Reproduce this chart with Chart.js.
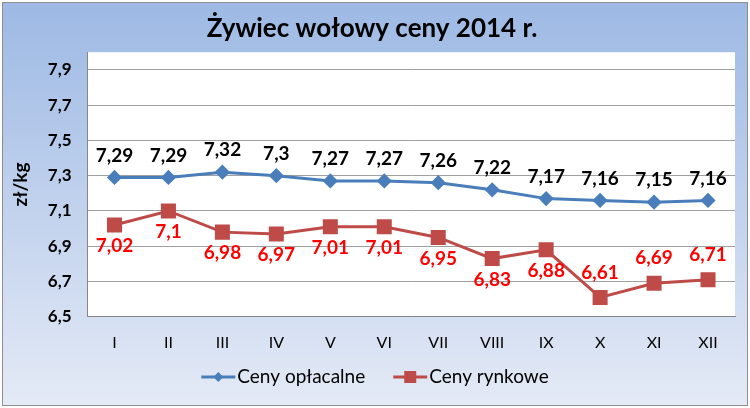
<!DOCTYPE html>
<html>
<head>
<meta charset="utf-8">
<script src="https://cdn.jsdelivr.net/npm/chart.js@4/dist/chart.umd.min.js"></script>
<style>
  html, body { margin: 0; padding: 0; background: #fff; }
  #frame {
    position: absolute; left: 2px; top: 2px; width: 744px; height: 402px;
    border: 1px solid #8e8e8e;
    background: linear-gradient(#9db9e4, #e4eaf6);
  }
  canvas { display: block; }
</style>
</head>
<body>
<div id="frame"><canvas id="chart" width="744" height="402"></canvas></div>
<script>
const months = ['I', 'II', 'III', 'IV', 'V', 'VI', 'VII', 'VIII', 'IX', 'X', 'XI', 'XII'];
const cenyOplacalne = [7.29, 7.29, 7.32, 7.3, 7.27, 7.27, 7.26, 7.22, 7.17, 7.16, 7.15, 7.16];
const cenyRynkowe = [7.02, 7.1, 6.98, 6.97, 7.01, 7.01, 6.95, 6.83, 6.88, 6.61, 6.69, 6.71];
const yTicks = [6.5, 6.7, 6.9, 7.1, 7.3, 7.5, 7.7, 7.9];

const FONT = 'Lato, "Open Sans", sans-serif';
const fmt = (v) => String(v).replace('.', ',');

const plotBackground = {
  id: 'plotBackground',
  beforeDraw(chart) {
    const { ctx, chartArea: a } = chart;
    ctx.save();
    ctx.fillStyle = '#ffffff';
    ctx.fillRect(a.left, a.top, a.right - a.left, a.bottom - a.top);
    ctx.restore();
  }
};

const valueLabels = {
  id: 'valueLabels',
  afterDatasetsDraw(chart) {
    const { ctx } = chart;
    ctx.save();
    ctx.font = 'bold 19px ' + FONT;
    ctx.textAlign = 'center';
    ctx.textBaseline = 'middle';
    chart.data.datasets.forEach((ds, di) => {
      const meta = chart.getDatasetMeta(di);
      meta.data.forEach((pt, i) => {
        let dy;
        if (di === 0) dy = -22;
        else dy = i >= 9 ? -25 : 21;
        ctx.fillStyle = di === 0 ? '#000000' : '#ff0000';
        ctx.fillText(fmt(ds.data[i]), pt.x, pt.y + dy);
      });
    });
    ctx.restore();
  }
};

// Excel-like legend: line with marker, then the series name
const lineLegend = {
  id: 'lineLegend',
  afterDraw(chart) {
    const { ctx, width } = chart;
    const y = 374;
    const iconW = 34, gap = 2, itemGap = 28;
    ctx.save();
    ctx.font = '19px ' + FONT;
    ctx.textBaseline = 'middle';
    const items = chart.data.datasets.map((ds) => ({
      ds, w: iconW + gap + ctx.measureText(ds.label).width
    }));
    const total = items.reduce((s, it) => s + it.w, 0) + itemGap * (items.length - 1);
    let x = (width - total) / 2;
    items.forEach(({ ds, w }) => {
      ctx.strokeStyle = ds.borderColor;
      ctx.fillStyle = ds.borderColor;
      ctx.lineWidth = 3;
      ctx.beginPath(); ctx.moveTo(x, y); ctx.lineTo(x + iconW, y); ctx.stroke();
      const cx = x + iconW / 2;
      ctx.beginPath();
      if (ds.pointStyle === 'rectRot') {
        ctx.moveTo(cx, y - 5); ctx.lineTo(cx + 5, y); ctx.lineTo(cx, y + 5); ctx.lineTo(cx - 5, y);
      } else {
        ctx.rect(cx - 6, y - 6, 12, 12);
      }
      ctx.fill();
      ctx.fillStyle = '#000';
      ctx.fillText(ds.label, x + iconW + gap, y);
      x += w + itemGap;
    });
    ctx.restore();
  }
};

new Chart(document.getElementById('chart'), {
  type: 'line',
  data: {
    labels: months,
    datasets: [
      {
        label: 'Ceny opłacalne',
        data: cenyOplacalne,
        borderColor: '#4a7ebb',
        backgroundColor: '#4a7ebb',
        borderWidth: 3,
        pointStyle: 'rectRot',
        pointRadius: 5.5,
        pointHoverRadius: 5.5,
        tension: 0
      },
      {
        label: 'Ceny rynkowe',
        data: cenyRynkowe,
        borderColor: '#be4b48',
        backgroundColor: '#be4b48',
        borderWidth: 3,
        pointStyle: 'rect',
        pointRadius: 8.5,
        pointHoverRadius: 8.5,
        tension: 0
      }
    ]
  },
  options: {
    responsive: false,
    animation: false,
    layout: { padding: { top: 8, right: 12, left: 6, bottom: 37 } },
    plugins: {
      title: {
        display: true,
        text: 'Żywiec wołowy ceny 2014 r.',
        color: '#000',
        font: { family: FONT, size: 26, weight: 'bold' },
        padding: { top: 2, bottom: 8 }
      },
      legend: { display: false },
      tooltip: { enabled: false }
    },
    scales: {
      x: {
        offset: true,
        grid: { display: false, drawTicks: false },
        border: { color: '#868686' },
        ticks: { color: '#000', font: { family: FONT, size: 16 }, padding: 16 }
      },
      y: {
        min: 6.5,
        max: 8.0,
        afterBuildTicks(axis) {
          axis.ticks = yTicks.map((v) => ({ value: v }));
        },
        grid: { color: '#a0a0a0', drawTicks: false },
        border: { color: '#868686' },
        ticks: {
          color: '#000',
          font: { family: FONT, size: 17, weight: 'bold' },
          padding: 16,
          callback: (v) => fmt(v.toFixed(1))
        },
        title: {
          display: true,
          text: 'zł/kg',
          color: '#000',
          font: { family: FONT, size: 19, weight: 'bold' },
          padding: { top: 0, bottom: 0 }
        }
      }
    }
  },
  plugins: [plotBackground, valueLabels, lineLegend]
});
</script>
</body>
</html>
